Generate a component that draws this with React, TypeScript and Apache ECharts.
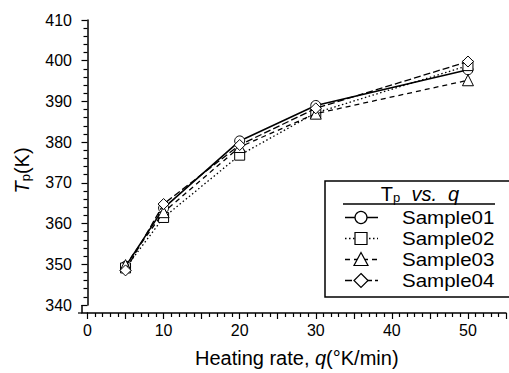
import React, { useEffect, useRef } from "react";
import * as echarts from "echarts";

const heatingRates = [5, 10, 20, 30, 50];
const sample01 = [349.5, 363.8, 380.3, 389.0, 397.8];
const sample02 = [349.1, 361.5, 376.8, 387.2, 398.8];
const sample03 = [349.8, 362.8, 378.8, 387.0, 395.2];
const sample04 = [348.5, 364.8, 379.3, 388.3, 399.8];
const seriesNames = ["Sample01", "Sample02", "Sample03", "Sample04"];
const seriesValues = [sample01, sample02, sample03, sample04];
const symbols = ["circle", "rect", "triangle", "diamond"];
const dashes: (number[] | "solid")[] = ["solid", [1.5, 2.5], [5, 4], [7, 3]];
const symbolSizes = [10, 10, 11, 11];

const FONT = "Liberation Sans, Arial, sans-serif";

export default function App() {
  const ref = useRef<HTMLDivElement>(null);
  useEffect(() => {
    if (!ref.current) return;
    const chart = echarts.init(ref.current, undefined, { renderer: "svg" });

    const legendRows = [217.5, 238.5, 259.5, 280.5];
    const legendGraphics: any[] = [
      {
        type: "rect",
        shape: { x: 325, y: 181, width: 200, height: 116 },
        style: { fill: "#fff", stroke: "#000", lineWidth: 1.5 },
        z: 10,
      },
      {
        type: "text",
        x: 420,
        y: 194,
        style: {
          text: "{n|T}{s|p}{i|  vs.  q}",
          align: "center",
          verticalAlign: "middle",
          rich: {
            n: { fontSize: 20, fontFamily: FONT, fill: "#000" },
            s: { fontSize: 13, fontFamily: FONT, fill: "#000", padding: [7, 0, 0, 0] },
            i: { fontSize: 20, fontFamily: FONT, fontStyle: "italic", fill: "#000" },
          },
        },
        z: 11,
      },
      {
        type: "line",
        shape: { x1: 343, y1: 204, x2: 495, y2: 204 },
        style: { stroke: "#000", lineWidth: 1.3 },
        z: 11,
      },
    ];
    seriesNames.forEach((name, i) => {
      const cy = legendRows[i];
      const cx = 361;
      legendGraphics.push({
        type: "line",
        shape: { x1: 345, y1: cy, x2: 378, y2: cy },
        style: {
          stroke: "#000",
          lineWidth: 1.3,
          lineDash: dashes[i] === "solid" ? null : (dashes[i] as number[]),
        },
        z: 11,
      });
      let sym: any;
      if (symbols[i] === "circle") {
        sym = { type: "circle", shape: { cx, cy, r: 6 } };
      } else if (symbols[i] === "rect") {
        sym = { type: "rect", shape: { x: cx - 6, y: cy - 6, width: 12, height: 12 } };
      } else if (symbols[i] === "triangle") {
        sym = { type: "polygon", shape: { points: [[cx, cy - 7], [cx + 7, cy + 6], [cx - 7, cy + 6]] } };
      } else {
        sym = { type: "polygon", shape: { points: [[cx, cy - 7], [cx + 7, cy], [cx, cy + 7], [cx - 7, cy]] } };
      }
      sym.style = { fill: "#fff", stroke: "#000", lineWidth: 1.2 };
      sym.z = 12;
      legendGraphics.push(sym);
      legendGraphics.push({
        type: "text",
        x: 402,
        y: cy,
        scaleX: 1.11,
        style: {
          text: name,
          fontSize: 18.5,
          fontFamily: FONT,
          fill: "#000",
          verticalAlign: "middle",
        },
        z: 12,
      });
    });

    chart.setOption({
      animation: false,
      backgroundColor: "#fff",
      grid: { left: 87.5, right: 1, top: 20, bottom: 68 },
      xAxis: {
        type: "value",
        min: 0,
        max: 55,
        interval: 5,
        offset: 8,
        name: "{n|Heating rate, }{i|q}{n|(°K/min)}",
        nameLocation: "middle",
        nameGap: 35,
        nameTextStyle: {
          rich: {
            n: { fontSize: 20, fontFamily: FONT, color: "#000" },
            i: { fontSize: 20, fontFamily: FONT, fontStyle: "italic", color: "#000" },
          },
        },
        axisLine: { show: true, lineStyle: { color: "#000", width: 1.5 } },
        axisTick: { show: true, length: 6, lineStyle: { color: "#000", width: 1.2 } },
        minorTick: { show: true, splitNumber: 5, length: 4, lineStyle: { color: "#000", width: 1.2 } },
        axisLabel: {
          fontSize: 16,
          fontFamily: FONT,
          color: "#000",
          margin: 9,
          formatter: (v: number) => (v % 10 === 0 ? String(v) : ""),
        },
        splitLine: { show: false },
      },
      yAxis: {
        type: "value",
        min: 340,
        max: 410,
        interval: 10,
        offset: 5.5,
        name: "{i|T}{s|p}{n|(K)}",
        nameLocation: "middle",
        nameGap: 50,
        nameRotate: 90,
        nameTextStyle: {
          padding: [0, 16, 0, 0],
          rich: {
            i: { fontSize: 20, fontFamily: FONT, fontStyle: "italic", color: "#000" },
            s: { fontSize: 13, fontFamily: FONT, color: "#000", padding: [7, 0, 0, 0] },
            n: { fontSize: 20, fontFamily: FONT, color: "#000" },
          },
        },
        axisLine: { show: true, lineStyle: { color: "#000", width: 1.5 } },
        axisTick: { show: true, length: 6, lineStyle: { color: "#000", width: 1.2 } },
        minorTick: { show: true, splitNumber: 5, length: 4, lineStyle: { color: "#000", width: 1.2 } },
        axisLabel: { fontSize: 16, fontFamily: FONT, color: "#000", margin: 10 },
        splitLine: { show: false },
      },
      series: seriesNames.map((name, i) => ({
        name,
        type: "line",
        data: heatingRates.map((x, j) => [x, seriesValues[i][j]]),
        symbol: symbols[i],
        symbolSize: symbolSizes[i],
        showAllSymbol: true,
        lineStyle: { color: "#000", width: i === 0 ? 1.6 : 1.3, type: dashes[i] },
        itemStyle: { color: "#fff", borderColor: "#000", borderWidth: 1 },
        z: 2 + i,
      })),
      graphic: [
        {
          type: "polyline",
          shape: { points: [[82, 305], [82, 313], [88, 313]] },
          style: { stroke: "#000", lineWidth: 1.5, fill: null },
        },
        {
          type: "line",
          shape: { x1: 78, y1: 313, x2: 82, y2: 313 },
          style: { stroke: "#000", lineWidth: 1.2 },
        },
        ...legendGraphics,
      ],
    });
    return () => chart.dispose();
  }, []);
  return (
    <div
      ref={ref}
      style={{ position: "fixed", left: 0, top: 0, width: 509, height: 373, background: "#fff" }}
    />
  );
}
